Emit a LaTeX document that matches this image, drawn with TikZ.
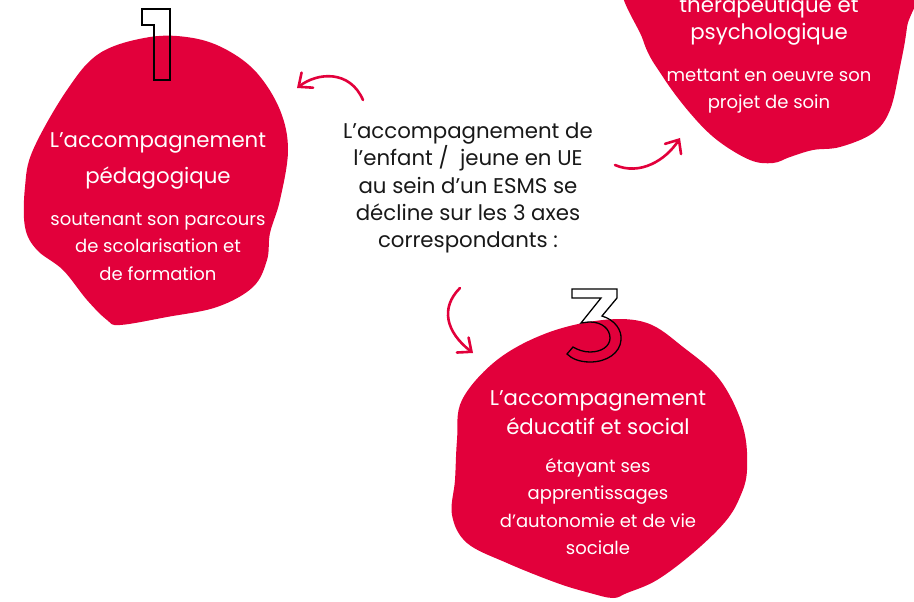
\documentclass[tikz,border=0pt]{standalone}
\usepackage{fontspec}
\setmainfont{Poppins}
\usetikzlibrary{arrows.meta,positioning}
\definecolor{blobred}{RGB}{226,0,59}
\definecolor{inkgrey}{RGB}{24,24,24}

\begin{document}
\begin{tikzpicture}[x=1pt, y=-1pt, node distance = 23pt and 0pt,
    blob/.style={fill=blobred},
    digit/.style={draw=black,line width=1.3pt,line join=miter},
    swirl/.style={draw=blobred,line width=2.6pt,line cap=round,
                  -{Straight Barb[length=11pt,width=19pt,line cap=round]}},
    intro/.style={text=inkgrey,align=center,inner sep=0pt,font=\fontsize{21.3}{27.3}\selectfont},
    blobtitle/.style={text=white,align=center,inner sep=0pt,font=\fontsize{21.3}{29}\selectfont},
    blobsub/.style={text=white,align=center,inner sep=0pt,font=\fontsize{18}{27.5}\selectfont},
   ]
    \useasboundingbox (0,0) rectangle (914,602);

    % the three blobs
    \fill[blob] plot[smooth cycle, tension=0.6] coordinates {(150,37) (193,38) (227,50) (257,73) (280,110)
        (288,150) (280,200) (270,233) (267,260) (253,287) (217,307) (167,317) (120,325) (107,320)
        (87,300) (63,270) (37,250) (25,227) (25,187) (33,150) (67,90) (100,53)};
    \fill[blob] plot[smooth cycle, tension=0.6] coordinates {(628,-30) (643,40) (663,77) (690,113) (717,140)
        (750,160) (773,163) (790,157) (813,150) (840,147) (873,133) (890,110) (900,67) (907,27)
        (912,-30) (770,-50)};
    \fill[blob] plot[smooth cycle, tension=0.6] coordinates {(547,333) (603,320) (647,323) (683,347) (720,380)
        (743,427) (747,470) (740,497) (725,522) (693,553) (657,580) (627,593) (613,598) (590,593)
        (557,583) (507,563) (467,543) (452,515) (455,480) (457,440) (462,400) (497,360)};

    % outlined numbers
    \draw[digit] (142,9) -- (170,9) -- (170,80) -- (154,80) -- (154,25) -- (142,25) -- cycle;
    \draw[digit] (572,289) -- (617,289) -- (617,298) -- (602,316)
        .. controls (615,320) and (622,330) .. (621,340)
        .. controls (620,353) and (607,362) .. (590,362)
        .. controls (580,362) and (572,359) .. (567,354) -- (573,347)
        .. controls (578,350) and (584,352) .. (590,352)
        .. controls (602,352) and (610,346) .. (610,338)
        .. controls (610,329) and (602,322) .. (590,322)
        .. controls (586,322) and (583,323) .. (581,323) -- (601,298) -- (572,298) -- cycle;

    % texts
    \node (intro) [intro] at (468,188) {L’accompagnement de\\ l’enfant /~ jeune en UE\\ au sein d’un ESMS se\\
        décline sur les 3 axes\\ correspondants :};

    \node (title_peda) [blobtitle,font=\fontsize{21.3}{36}\selectfont] at (158,161) {L’accompagnement\\ pédagogique};
    \node (sub_peda)   [blobsub,below=of title_peda] {soutenant son parcours\\ de scolarisation et\\ de formation};

    \node (title_thera) [blobtitle,font=\fontsize{21.3}{27}\selectfont] at (769,21) {thérapeutique et\\ psychologique};
    \node (sub_thera)   [blobsub,below=of title_thera] {mettant en oeuvre son\\ projet de soin};

    \node (title_educ) [blobtitle] at (598,413) {L’accompagnement\\ éducatif et social};
    \node (sub_educ)   [blobsub,below=of title_educ] {étayant ses\\ apprentissages\\ d’autonomie et de vie\\ sociale};

    % arrows
    \coordinate (to_peda_a)  at (363,100); \coordinate (to_peda_b)  at (297,88);
    \coordinate (to_educ_a)  at (460,288); \coordinate (to_educ_b)  at (473,353);
    \coordinate (to_thera_a) at (615,165); \coordinate (to_thera_b) at (680,138);

    \draw[swirl] (to_peda_a) .. controls (350,70) and (318,72) .. (to_peda_b);
    \draw[swirl] (to_educ_a) .. controls (440,308) and (446,332) .. (to_educ_b);
    \draw[swirl] (to_thera_a) .. controls (640,176) and (666,160) .. (to_thera_b);
\end{tikzpicture}
\end{document}
